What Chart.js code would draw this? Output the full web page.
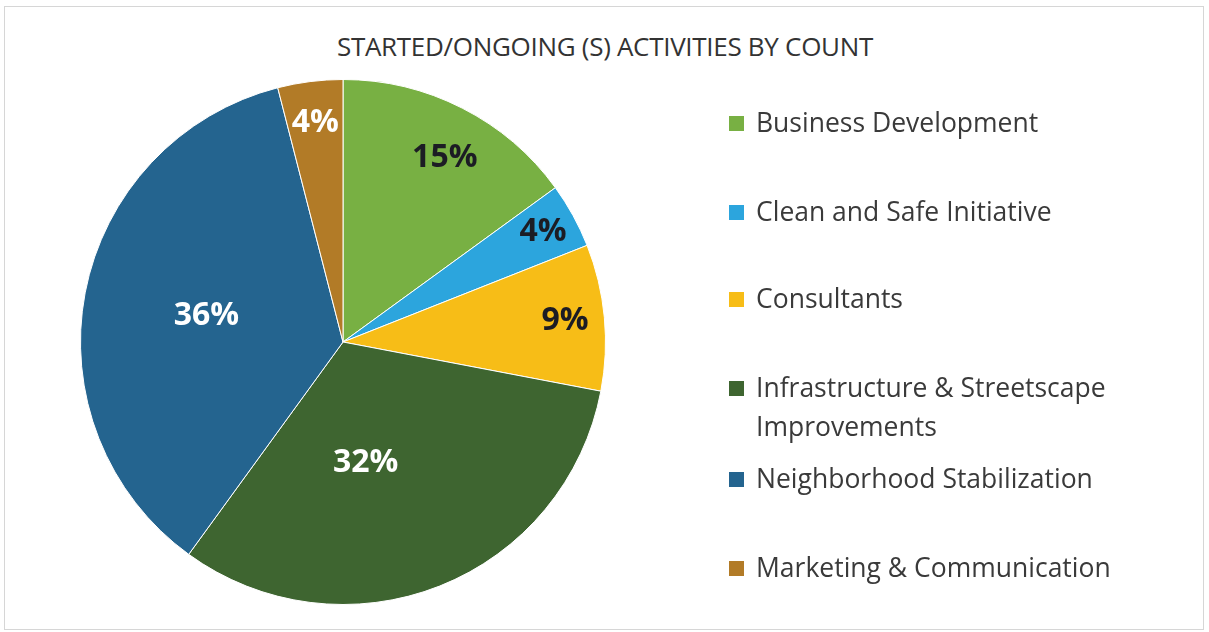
<!DOCTYPE html>
<html>
<head>
<meta charset="utf-8">
<script src="https://cdn.jsdelivr.net/npm/chart.js@4.4.1/dist/chart.umd.min.js"></script>
<style>
  html, body { margin: 0; padding: 0; background: #fff; }
  #wrap { position: relative; width: 1209px; height: 632px; font-family: "Open Sans", Lato, sans-serif; }
  #frame { position: absolute; left: 4px; top: 6px; width: 1198px; height: 622px; border: 1px solid #d6d6d6; }
  #title { position: absolute; left: 0; width: 1210px; top: 28px; text-align: center; font-size: 26px; color: #333; letter-spacing: -0.3px; }
  #legend { position: absolute; left: 729px; top: 103px; width: 420px; }
  .item { position: absolute; left: 0; font-size: 26.5px; color: #3a3a3a; line-height: 39px; }
  .item span.box { position: absolute; left: 0; top: 13px; width: 15px; height: 15px; }
  .item span.txt { display: block; margin-left: 27px; width: 390px; }
  canvas { position: absolute; left: 0; top: 0; }
</style>
</head>
<body>
<div id="wrap">
  <div id="frame"></div>
  <div id="title">STARTED/ONGOING (S) ACTIVITIES BY COUNT</div>
  <canvas id="chartPie" width="1209" height="632"></canvas>
  <div id="legend"></div>
</div>
<script>
const categorias = [
  "Business Development",
  "Clean and Safe Initiative",
  "Consultants",
  "Infrastructure & Streetscape Improvements",
  "Neighborhood Stabilization",
  "Marketing & Communication"
];
const porcentajes = [15, 4, 9, 32, 36, 4];
const colores = ["#78b043", "#2ca5dd", "#f7bd17", "#3e6530", "#24648f", "#b27b27"];
const coloresEtiqueta = ["#1c1c24", "#1c1c24", "#1c1c24", "#ffffff", "#ffffff", "#ffffff"];

// distancia de la etiqueta desde el centro (fraccion del radio) y giro en grados
const radioEtiqueta = [0.80, 0.87, 0.85, 0.47, 0.53, 0.84];
const giroEtiqueta = [2, 0, 0, 11, 0, 0];

const etiquetas = {
  id: "etiquetas",
  afterDatasetsDraw(chart) {
    const ctx = chart.ctx;
    const meta = chart.getDatasetMeta(0);
    ctx.save();
    ctx.font = "bold 32px 'Open Sans', Lato, sans-serif";
    ctx.textAlign = "center";
    ctx.textBaseline = "middle";
    meta.data.forEach((arc, i) => {
      const p = arc.getProps(["x", "y", "startAngle", "endAngle", "outerRadius"], true);
      const ang = (p.startAngle + p.endAngle) / 2 + giroEtiqueta[i] * Math.PI / 180;
      const r = p.outerRadius * radioEtiqueta[i];
      ctx.fillStyle = coloresEtiqueta[i];
      ctx.fillText(porcentajes[i] + "%", p.x + Math.cos(ang) * r, p.y + Math.sin(ang) * r);
    });
    ctx.restore();
  }
};

new Chart(document.getElementById("chartPie"), {
  type: "pie",
  data: {
    labels: categorias,
    datasets: [{
      data: porcentajes,
      backgroundColor: colores,
      borderColor: "#ffffff",
      borderWidth: 1
    }]
  },
  options: {
    responsive: false,
    animation: false,
    layout: { padding: { left: 80, right: 603, top: 78, bottom: 26 } },
    plugins: {
      legend: { display: false },
      title: { display: false },
      tooltip: { enabled: false }
    }
  },
  plugins: [etiquetas]
});

// leyenda
const filas = [103, 192, 279, 368, 459, 548];
const leyenda = document.getElementById("legend");
categorias.forEach((c, i) => {
  const d = document.createElement("div");
  d.className = "item";
  d.style.top = (filas[i] - 103) + "px";
  d.innerHTML = '<span class="box" style="background:' + colores[i] + '"></span><span class="txt"></span>';
  d.querySelector(".txt").textContent = c;
  leyenda.appendChild(d);
});
</script>
</body>
</html>
